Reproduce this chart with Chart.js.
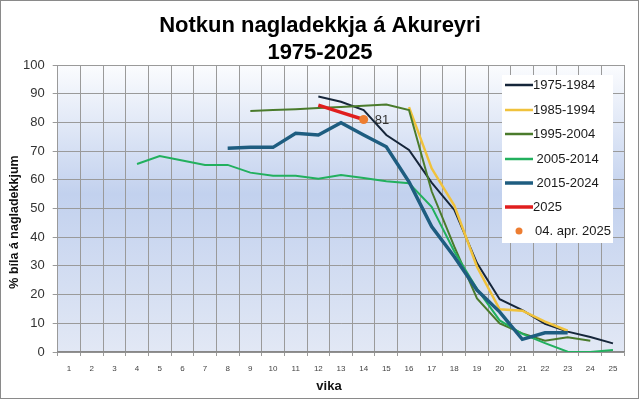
<!DOCTYPE html>
<html>
<head>
<meta charset="utf-8">
<script src="https://cdn.jsdelivr.net/npm/chart.js@4.4.1/dist/chart.umd.min.js"></script>
<style>
html,body{margin:0;padding:0;background:#fff;}
#c{display:block;}
</style>
</head>
<body>
<canvas id="c" width="639" height="399"></canvas>
<script>
const weeks = ["1","2","3","4","5","6","7","8","9","10","11","12","13","14","15","16","17","18","19","20","21","22","23","24","25"];
const yTicks = [0,10,20,30,40,50,60,70,80,90,100];
const s1975 = [null,null,null,null,null,null,null,null,null,null,null,89,87.2,84.3,75.6,70.4,59,49.5,31,18.4,14.6,9.8,7.1,5.2,3];
const s1985 = [null,null,null,null,null,null,null,null,null,null,null,null,null,null,null,85.3,64,51,29.7,14.9,14.4,10.6,7.4,null,null];
const s1995 = [null,null,null,null,null,null,null,null,84,84.3,84.6,85,85.4,85.8,86.2,84.3,56,36.7,18.7,10,6.5,3.9,5.1,3.9,null];
const s2005 = [null,null,null,65.5,68.3,66.7,65.2,65.2,62.5,61.4,61.4,60.4,61.7,60.6,59.5,58.8,50.6,35,22,11,6.3,3.1,0.1,0,0.7];
const s2015 = [null,null,null,null,null,null,null,71,71.3,71.3,76.2,75.6,79.9,75.6,71.5,59.3,43.7,33.2,21.6,14,4.4,6.7,6.7,null,null];
const s2025 = [null,null,null,null,null,null,null,null,null,null,null,86,83.5,81,null,null,null,null,null,null,null,null,null,null,null];
const sApr2025 = [null,null,null,null,null,null,null,null,null,null,null,null,null,81,null,null,null,null,null,null,null,null,null,null,null];
const seriesLabels = ["1975-1984","1985-1994","1995-2004"," 2005-2014"," 2015-2024","2025","04. apr. 2025"];
const titleLines = ["Notkun nagladekkja á Akureyri","1975-2025"];
const yTitle = "% bíla á nagladekkjum";
const xTitle = "vika";

const colors = ["#16263a","#f0c23c","#4a7b2c","#22b05e","#1e5d80","#e01e1e","#ed7d31"];
const widths = [2,2.5,2,2,3.5,3.5,0];

const bgPlugin = {
  id:'bg',
  beforeDraw(chart){
    const {ctx, chartArea:a} = chart;
    ctx.save();
    ctx.fillStyle = '#fff';
    ctx.fillRect(0,0,chart.width,chart.height);
    const g = ctx.createLinearGradient(0,a.top,0,a.bottom);
    g.addColorStop(0,'#fbfcfe');
    g.addColorStop(0.45,'#c2d1ee');
    g.addColorStop(1,'#e2e8f5');
    ctx.fillStyle = g;
    ctx.fillRect(a.left,a.top,a.right-a.left,a.bottom-a.top);
    ctx.restore();
  },
  afterDraw(chart){
    const {ctx} = chart;
    ctx.save();
    ctx.strokeStyle = '#8a8a8a';
    ctx.lineWidth = 1;
    ctx.strokeRect(0.5,0.5,chart.width-1,chart.height-1);
    ctx.fillStyle = '#000';
    ctx.font = 'bold 22px "Liberation Sans", Arial, sans-serif';
    ctx.textAlign = 'center';
    ctx.textBaseline = 'middle';
    ctx.fillText(titleLines[0], 320, 26);
    ctx.fillText(titleLines[1], 320, 53);
    ctx.font = 'bold 13px "Liberation Sans", Arial, sans-serif';
    ctx.fillStyle = '#111';
    ctx.fillText(xTitle, 329, 386);
    ctx.save();
    ctx.translate(15, 222);
    ctx.rotate(-Math.PI/2);
    ctx.font = 'bold 12.5px "Liberation Sans", Arial, sans-serif';
    ctx.fillText(yTitle, 0, 0);
    ctx.restore();
    const meta = chart.getDatasetMeta(6);
    const ds = chart.data.datasets[6];
    meta.data.forEach((pt,i)=>{
      if(ds.data[i]==null) return;
      ctx.font = '13px "Liberation Sans", Arial, sans-serif';
      ctx.fillStyle = '#333';
      ctx.textAlign = 'left';
      ctx.fillText(String(ds.data[i]), pt.x+11, pt.y+0.5);
    });
    const lx = 502, ly = 75, lw = 111, lh = 168;
    ctx.fillStyle = '#fff';
    ctx.fillRect(lx,ly,lw,lh);
    ctx.font = '13px "Liberation Sans", Arial, sans-serif';
    ctx.textBaseline = 'middle';
    const ys = [85,110,134,159,183,207,231];
    chart.data.datasets.forEach((d,i)=>{
      const y = ys[i];
      if(i<6){
        ctx.strokeStyle = d.borderColor;
        ctx.lineWidth = Math.max(d.borderWidth,2.5);
        ctx.beginPath();
        ctx.moveTo(505,y);ctx.lineTo(533,y);ctx.stroke();
        ctx.fillStyle = '#1a1a1a';
        ctx.textAlign='left';
        ctx.fillText(d.label, 533, y);
      } else {
        ctx.fillStyle = d.pointBackgroundColor;
        ctx.beginPath();ctx.arc(519,y,3.5,0,Math.PI*2);ctx.fill();
        ctx.fillStyle = '#1a1a1a';
        ctx.textAlign='left';
        ctx.fillText(d.label, 535, y);
      }
    });
    ctx.restore();
  }
};

const allSeries = [s1975,s1985,s1995,s2005,s2015,s2025,sApr2025];
const datasets = allSeries.map((s,i)=>({
  label: seriesLabels[i],
  data: s,
  borderColor: colors[i],
  backgroundColor: colors[i],
  borderWidth: widths[i],
  pointRadius: i===6 ? 4.5 : 0,
  pointBackgroundColor: colors[i],
  pointBorderWidth: 0,
  showLine: i!==6,
  tension: 0,
  spanGaps: false,
  order: i===6 ? 0 : (i===5 ? 1 : 10-i)
}));

new Chart(document.getElementById('c'), {
  type:'line',
  data:{labels:weeks, datasets},
  options:{
    responsive:false,
    animation:false,
    devicePixelRatio:1,
    layout:{padding:{left:0,top:65,right:14.7,bottom:0}},
    plugins:{legend:{display:false},title:{display:false},tooltip:{enabled:false}},
    scales:{
      x:{
        offset:true,
        grid:{offset:true,color:'#9a9a9a',lineWidth:1,tickLength:4,drawTicks:true},
        border:{color:'#888',width:1.5},
        ticks:{font:{size:8,family:'"Liberation Sans", Arial, sans-serif'},color:'#444',padding:8,maxRotation:0,autoSkip:false},
        afterFit(s){s.height=47;}
      },
      y:{
        min:0,max:100,
        afterBuildTicks(s){s.ticks = yTicks.map(v=>({value:v}));},
        grid:{color:'#9a9a9a',lineWidth:1,tickLength:5},
        border:{display:false},
        ticks:{font:{size:13,family:'"Liberation Sans", Arial, sans-serif'},color:'#333',padding:8},
        afterFit(s){s.width=57.7;}
      }
    }
  },
  plugins:[bgPlugin]
});
</script>
</body>
</html>
